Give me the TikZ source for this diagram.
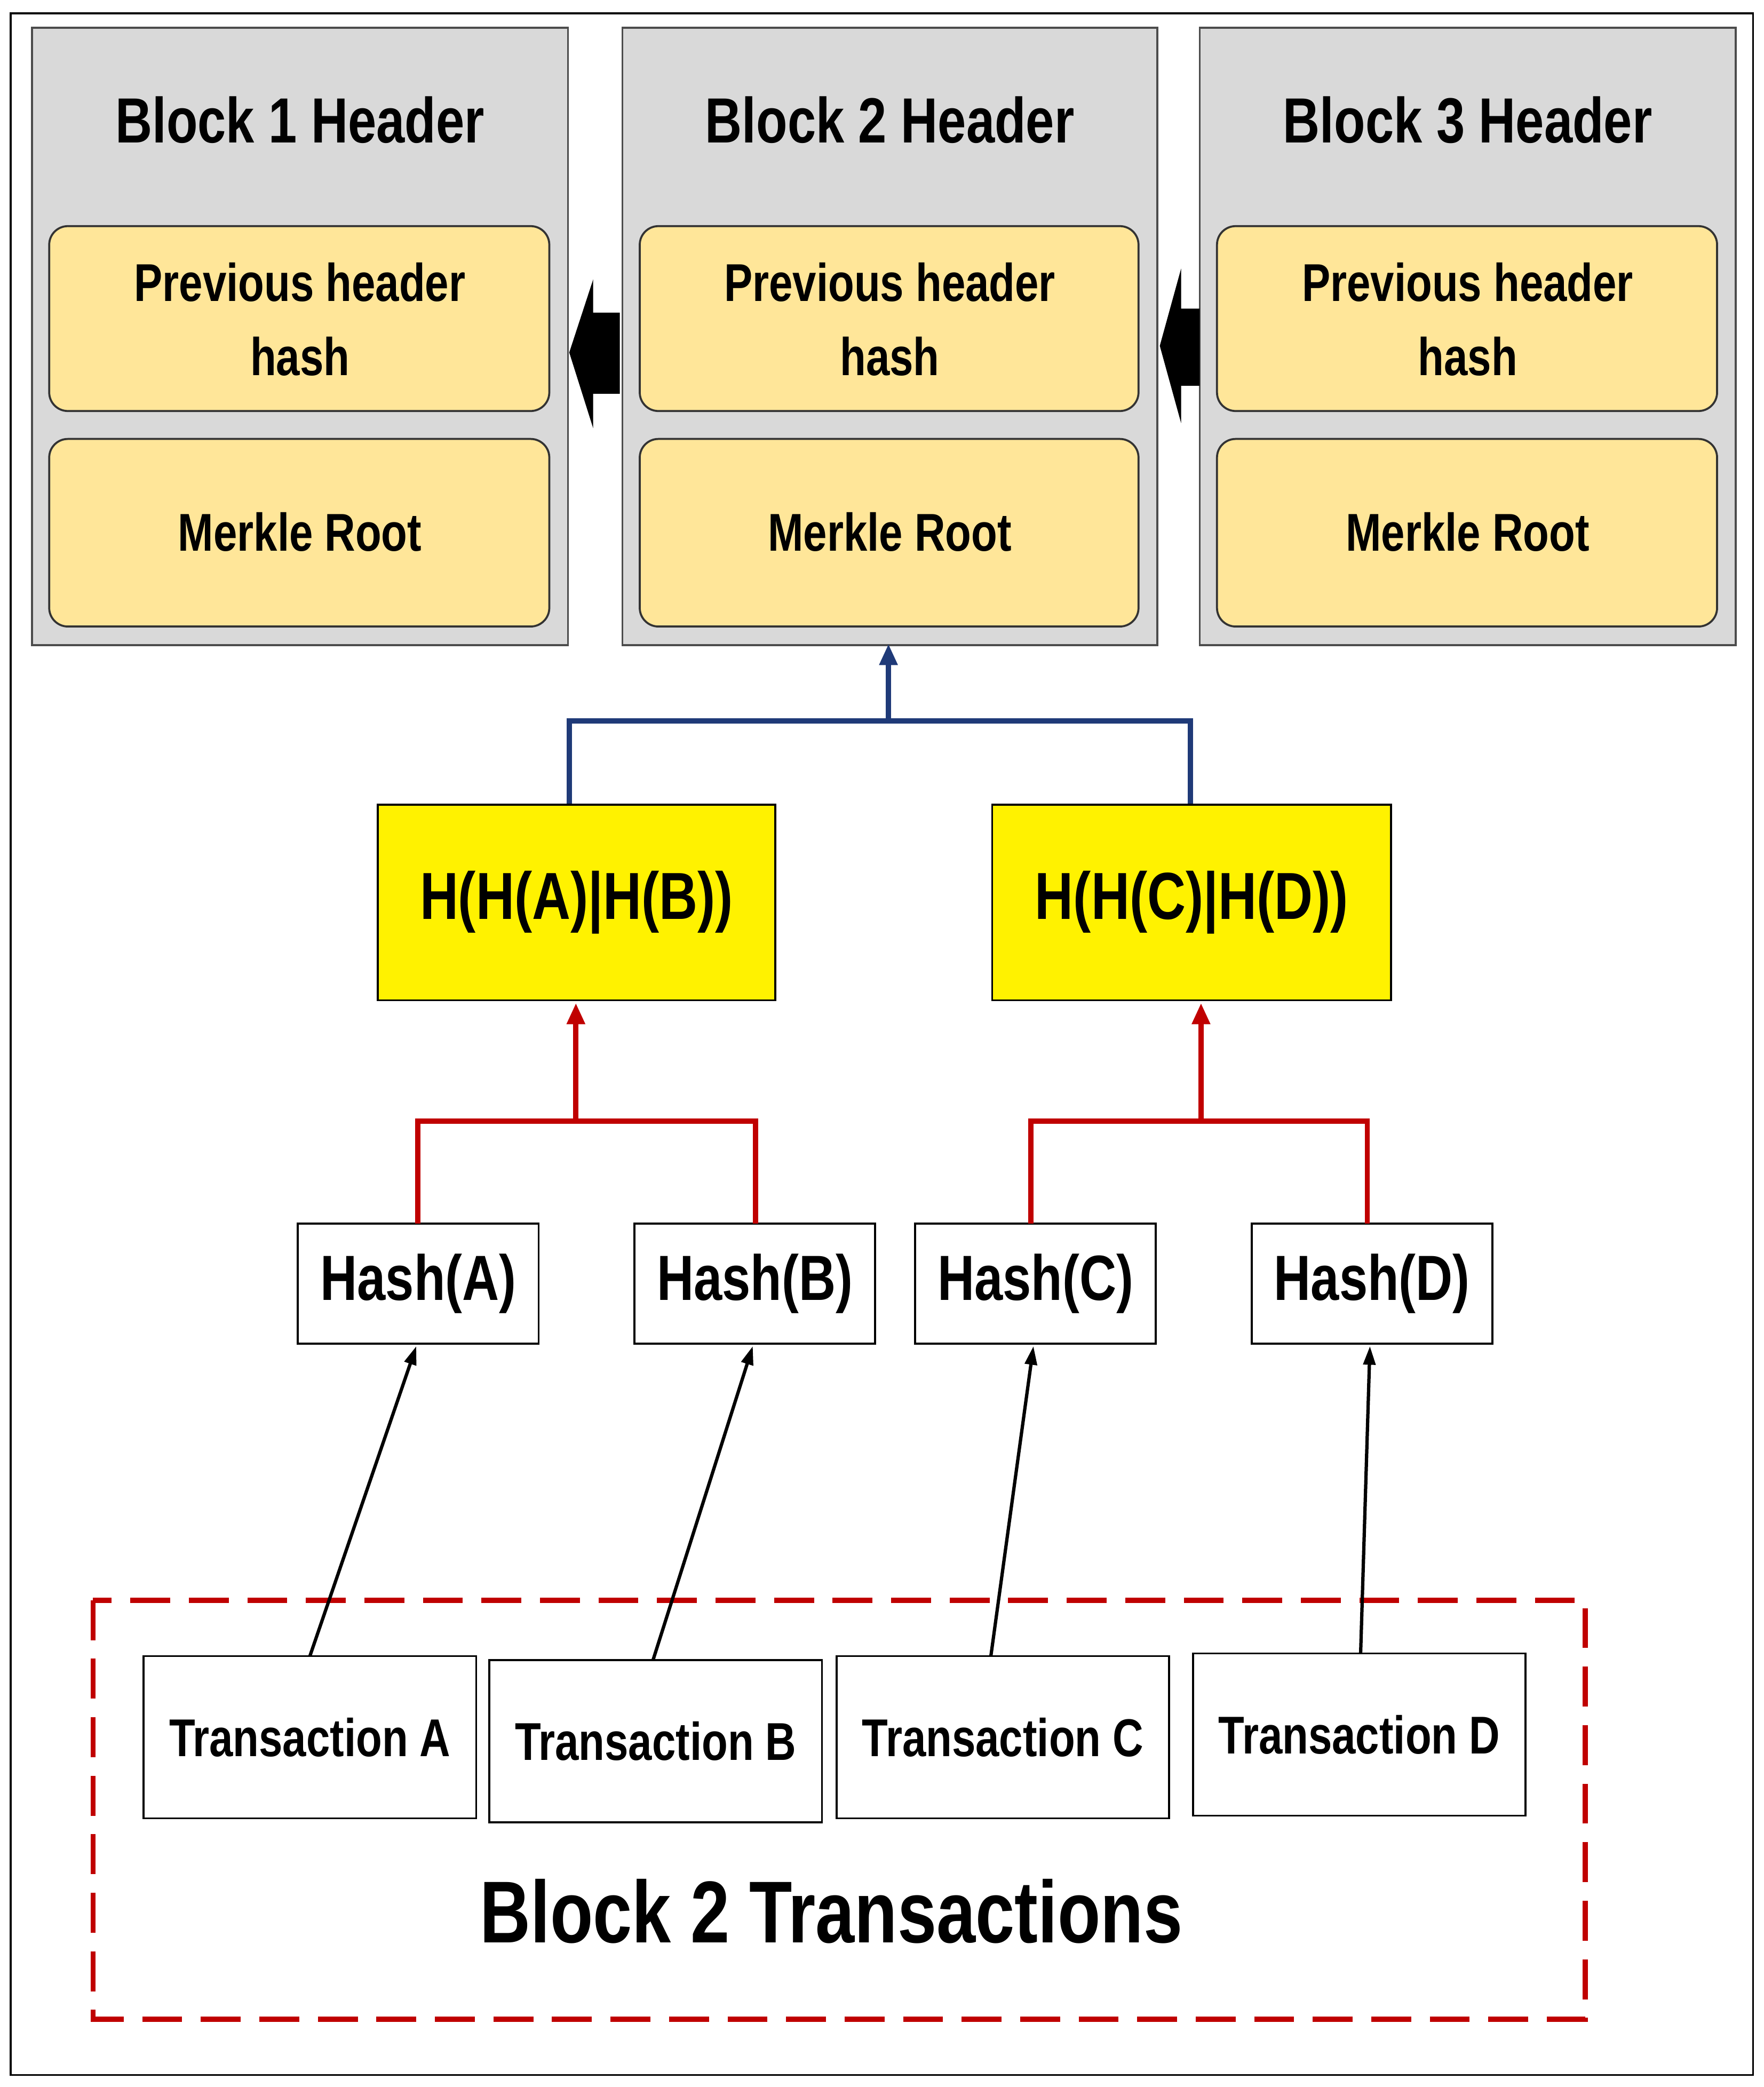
\documentclass[tikz,border=0pt]{standalone}
\usepackage{fontspec}
\setmainfont{Liberation Sans}[FakeStretch=0.8]
\usetikzlibrary{arrows.meta}
\definecolor{hdr}{HTML}{D9D9D9}
\definecolor{org}{HTML}{FFE699}
\definecolor{dred}{HTML}{C00000}
\definecolor{dblue}{HTML}{1F3A78}
\begin{document}
\begin{tikzpicture}[x=1pt,y=-1pt,
  hbox/.style={draw=black!70,fill=hdr,line width=1.5pt},
  obox/.style={draw=black!80,fill=org,rounded corners=14pt,line width=1.5pt,align=center,font=\bfseries\fontsize{40}{56}\selectfont},
  wbox/.style={draw=black,fill=white,line width=1.5pt},
  ttl/.style={font=\bfseries\fontsize{48}{56}\selectfont},
  red/.style={draw=dred,line width=4pt},
  thin/.style={draw=black,line width=2.5pt,-{Triangle[length=14pt,width=9pt]}}]
\useasboundingbox (0,0) rectangle (1326,1569);
\draw[line width=1.5pt] (8,10) rectangle (1318,1560);
% headers
\foreach \n/\a/\b in {1/24/427,2/468/870,3/902/1305}{
  \draw[hbox] (\a,21) rectangle (\b,485);
  \node[ttl] (t\n) at ({(\a+\b)/2},90) {Block \n{} Header};
  \draw[obox] (\a+13,170) rectangle (\b-14,309);
  \node[font=\bfseries\fontsize{40}{56}\selectfont,align=center] (p\n) at ({(\a+\b)/2},240) {Previous header\\hash};
  \draw[obox] (\a+13,330) rectangle (\b-14,471);
  \node[font=\bfseries\fontsize{40}{56}\selectfont] (m\n) at ({(\a+\b)/2},400) {Merkle Root};
}
% big arrows
\fill (466,235) -- (446,235) -- (446,210) -- (428,265) -- (446,322) -- (446,296) -- (466,296) -- cycle;
\fill (902,232) -- (888,232) -- (888,202) -- (872,260) -- (888,318) -- (888,290) -- (902,290) -- cycle;
% yellow
\node[draw=black,fill=yellow,line width=1.5pt,minimum width=299pt,minimum height=147pt,font=\bfseries\fontsize{50}{56}\selectfont] (y1) at (433.5,678.5) {H(H(A)|H(B))};
\node[draw=black,fill=yellow,line width=1.5pt,minimum width=300pt,minimum height=147pt,font=\bfseries\fontsize{50}{56}\selectfont] (y2) at (896,678.5) {H(H(C)|H(D))};
\coordinate (bj) at (668,542);
\draw[draw=dblue,line width=4pt] (y1.north -| 428,0) -- (428,542) -- (895,542) -- (y2.north -| 895,0);
\draw[draw=dblue,line width=4pt,-{Triangle[length=16pt,width=13pt]}] (bj) -- (668,484);
% hash
\foreach \n/\a in {A/224,B/477,C/688,D/941}{
  \node[wbox,minimum width=181pt,minimum height=90pt,font=\bfseries\fontsize{48}{56}\selectfont] (h\n) at (\a+90.5,965) {Hash(\n)};
}
\draw[red] (314,920) -- (314,843) -- (568,843) -- (568,920);
\draw[red,-{Triangle[length=16pt,width=13pt]}] (433,843) -- (433,754);
\draw[red] (775,920) -- (775,843) -- (1028,843) -- (1028,920);
\draw[red,-{Triangle[length=16pt,width=13pt]}] (903,843) -- (903,754);
% dashed
\draw[dred,line width=4pt,dash pattern=on 30pt off 14pt] (70,1203) rectangle (1192,1518);
\node[font=\bfseries\fontsize{66}{72}\selectfont] (bt) at (625,1437) {Block 2 Transactions};
\foreach \n/\a/\y in {A/108/1306,B/368/1309,C/629/1306,D/897/1304}{
  \node[wbox,minimum width=250pt,minimum height=122pt,font=\bfseries\fontsize{40}{56}\selectfont] (x\n) at (\a+125,\y) {Transaction \n};
}
\draw[thin] (233,1245) -- (313,1012);
\draw[thin] (491,1248) -- (566,1012);
\draw[thin] (745,1245) -- (777,1012);
\draw[thin] (1023,1243) -- (1030,1012);
\end{tikzpicture}
\end{document}
